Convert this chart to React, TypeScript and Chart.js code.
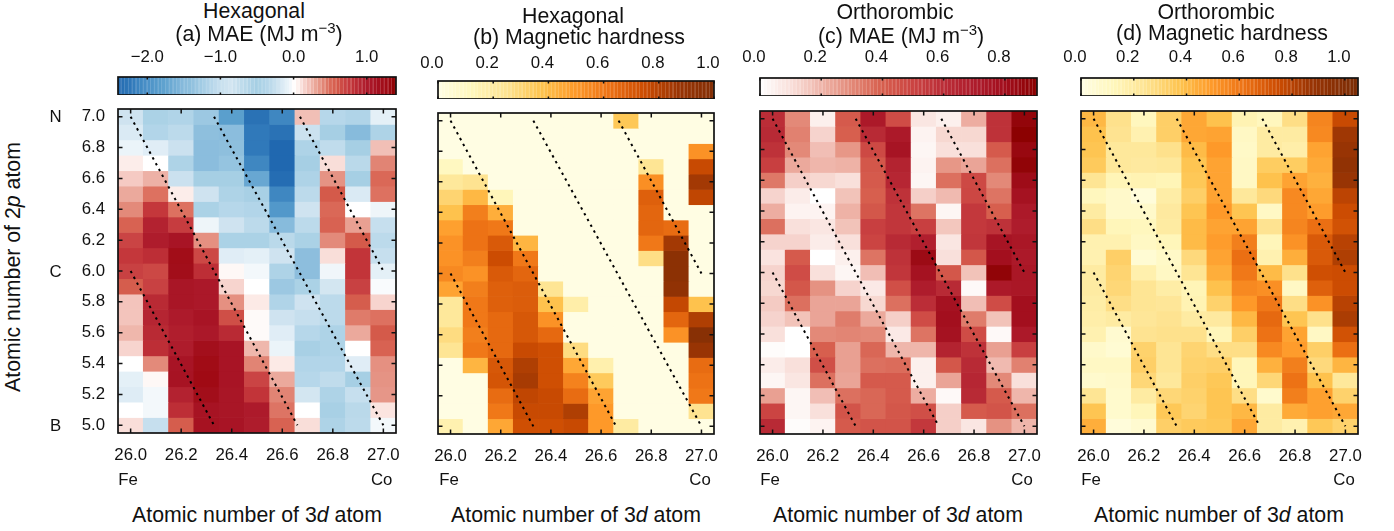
import React, { useEffect, useRef } from "react";
import { Chart, registerables } from "chart.js";

Chart.register(...registerables);

const FONT = '"Liberation Sans", Arial, sans-serif';

const xColumns = [26.0, 26.1, 26.2, 26.3, 26.4, 26.5, 26.6, 26.7, 26.8, 26.9, 27.0];
const xTickValues = [26.0, 26.2, 26.4, 26.6, 26.8, 27.0];
const yRows = [7.0, 6.9, 6.8, 6.7, 6.6, 6.5, 6.4, 6.3, 6.2, 6.1, 6.0, 5.9, 5.8, 5.7, 5.6, 5.5, 5.4, 5.3, 5.2, 5.1, 5.0];
const yTickValues = [5.0, 5.2, 5.4, 5.6, 5.8, 6.0, 6.2, 6.4, 6.6, 6.8, 7.0];

const guideLines = [
  [{ x: 26.0, y: 6.0 }, { x: 26.33, y: 5.0 }],
  [{ x: 26.0, y: 7.0 }, { x: 26.66, y: 5.0 }],
  [{ x: 26.33, y: 7.0 }, { x: 27.0, y: 5.0 }],
  [{ x: 26.67, y: 7.0 }, { x: 27.0, y: 6.0 }],
];

const hexMae = [
  [-0.2, -0.45, -0.4, -1.3, -1.8, -2.3, -2.1, 0.22, -0.35, -0.4, -0.1],
  [-0.15, -0.38, -0.3, -1.4, -1.45, -2.2, -2.3, -0.22, -0.5, -1.5, -0.42],
  [-0.07, -0.12, -0.22, -1.45, -1.4, -2.2, -2.4, -0.42, -0.28, -0.5, 0.22],
  [0.07, 0, -0.42, -1.45, -1.35, -2.1, -2.4, -0.5, 0.12, -0.32, 0.42],
  [0.18, 0.27, -0.22, -0.5, -0.5, -1.7, -2.35, -0.42, 0.37, -0.5, 0.52],
  [0.3, 0.48, 0.07, -0.2, -0.42, -0.48, -2.1, -0.3, 0.6, -0.15, 0.48],
  [0.4, 0.78, 0.48, -0.45, -0.35, -0.38, -1.9, -0.2, 0.52, 0, -0.06],
  [0.55, 0.95, 0.75, -0.06, -0.2, -0.3, -1.5, -0.3, 0.55, 0.33, -0.25],
  [0.7, 1.0, 1.1, 0.38, -0.45, -0.45, -0.32, -0.45, 0.4, 0.6, -0.3],
  [0.78, 0.85, 1.25, 0.68, -0.12, -0.1, -0.2, -1.42, 0.12, 0.8, -0.25],
  [0.72, 0.68, 1.22, 0.85, 0.03, -0.04, -0.42, -1.42, -0.05, 0.8, -0.1],
  [0.58, 0.72, 1.08, 1.05, 0.15, 0, -1.3, -0.45, -0.18, 0.72, -0.02],
  [0.2, 0.88, 1.08, 1.05, 0.38, 0.08, -0.4, -0.2, -0.3, 0.58, 0.15],
  [0.2, 0.92, 1.02, 1.1, 0.65, 0.02, -0.2, -0.25, -0.3, 0.45, 0.48],
  [0.25, 0.88, 0.98, 1.05, 0.88, 0.02, -0.12, -0.35, -0.42, 0.3, 0.6],
  [0.15, 0.85, 1.0, 1.2, 1.1, 0.25, -0.07, -0.48, -0.42, 0, 0.55],
  [0, 0.4, 1.1, 1.27, 1.1, 0.42, 0.08, -0.38, -0.38, -0.12, 0.38],
  [-0.1, 0.03, 1.12, 1.3, 1.1, 0.7, 0.3, -0.35, -0.28, -0.5, 0.37],
  [-0.13, -0.04, 0.95, 1.22, 1.08, 0.8, 0.42, -0.18, -0.42, -0.25, 0.36],
  [0, -0.04, 0.85, 1.12, 1.08, 1.02, 0.47, 0, -0.48, -0.32, 0.1],
  [0.12, -0.25, 0.58, 1.15, 1.1, 1.0, 0.55, 0.12, -0.42, -0.3, -0.04],
];

const hexHardness = [
  [0, 0, 0, 0, 0, 0, 0, 0.36, 0, 0, 0],
  [0, 0, 0, 0, 0, 0, 0, 0, 0, 0, 0],
  [0, 0, 0, 0, 0, 0, 0, 0, 0, 0, 0.52],
  [0.11, 0, 0, 0, 0, 0, 0, 0, 0.24, 0, 0.76],
  [0.22, 0.25, 0, 0, 0, 0, 0, 0, 0.53, 0, 0.85],
  [0.31, 0.41, 0.13, 0, 0, 0, 0, 0, 0.68, 0, 0.78],
  [0.38, 0.58, 0.44, 0, 0, 0, 0, 0, 0.66, 0, 0],
  [0.48, 0.62, 0.6, 0, 0, 0, 0, 0, 0.66, 0.64, 0],
  [0.52, 0.62, 0.7, 0.42, 0, 0, 0, 0, 0.6, 0.85, 0],
  [0.52, 0.58, 0.75, 0.6, 0, 0, 0, 0, 0.27, 0.95, 0],
  [0.55, 0.52, 0.7, 0.66, 0, 0, 0, 0, 0, 0.95, 0],
  [0.47, 0.58, 0.68, 0.69, 0.24, 0, 0, 0, 0, 0.92, 0],
  [0.22, 0.6, 0.68, 0.69, 0.38, 0.18, 0, 0, 0, 0.77, 0.38],
  [0.22, 0.6, 0.65, 0.71, 0.52, 0, 0, 0, 0, 0.66, 0.82],
  [0.28, 0.58, 0.65, 0.71, 0.65, 0, 0, 0, 0, 0.52, 0.97],
  [0.24, 0.6, 0.65, 0.76, 0.74, 0.28, 0, 0, 0, 0, 0.88],
  [0, 0.42, 0.71, 0.82, 0.74, 0.46, 0.17, 0, 0, 0, 0.64],
  [0, 0, 0.72, 0.84, 0.74, 0.57, 0.35, 0, 0, 0, 0.62],
  [0, 0, 0.64, 0.78, 0.76, 0.64, 0.47, 0, 0, 0, 0.6],
  [0, 0, 0.6, 0.76, 0.76, 0.82, 0.5, 0, 0, 0, 0.25],
  [0.16, 0, 0.46, 0.74, 0.74, 0.76, 0.5, 0.2, 0, 0, 0],
];

const orthoMae = [
  [0.6, 0.3, 0.05, 0.42, 0.72, 0.47, 0.08, 0.05, 0.22, 0.58, 0.87],
  [0.62, 0.32, 0.13, 0.4, 0.62, 0.72, 0.04, 0.12, 0.12, 0.58, 0.9],
  [0.58, 0.3, 0.18, 0.27, 0.48, 0.76, 0.03, 0.1, 0.1, 0.42, 0.85],
  [0.52, 0.23, 0.2, 0.21, 0.43, 0.66, 0.04, 0.27, 0.24, 0.36, 0.88],
  [0.34, 0.14, 0.12, 0.1, 0.42, 0.64, 0.03, 0.36, 0.48, 0.3, 0.82],
  [0.13, 0.06, 0, 0.17, 0.4, 0.58, 0.14, 0.19, 0.49, 0.35, 0.78],
  [0.22, 0.04, 0.04, 0.21, 0.43, 0.56, 0.35, 0.03, 0.55, 0.4, 0.72],
  [0.36, 0.1, 0.08, 0.17, 0.52, 0.56, 0.52, 0.16, 0.55, 0.58, 0.7],
  [0.13, 0.13, 0.06, 0.1, 0.5, 0.62, 0.68, 0.08, 0.56, 0.76, 0.74],
  [0.09, 0.42, 0, 0.05, 0.35, 0.58, 0.83, 0.1, 0.43, 0.8, 0.72],
  [0.13, 0.47, 0.1, 0.03, 0.18, 0.56, 0.78, 0.43, 0.17, 0.88, 0.74],
  [0.12, 0.43, 0.28, 0.13, 0.07, 0.46, 0.7, 0.62, 0.02, 0.72, 0.74],
  [0.15, 0.36, 0.24, 0.24, 0.12, 0.36, 0.6, 0.78, 0.18, 0.47, 0.8],
  [0.13, 0.17, 0.24, 0.33, 0.23, 0.14, 0.47, 0.8, 0.33, 0.17, 0.8],
  [0.1, 0, 0.3, 0.31, 0.3, 0.07, 0.35, 0.78, 0.47, 0.02, 0.72],
  [0.01, 0, 0.4, 0.25, 0.38, 0.2, 0.2, 0.66, 0.58, 0.25, 0.52],
  [0.06, 0.1, 0.46, 0.25, 0.36, 0.37, 0.05, 0.43, 0.62, 0.19, 0.32],
  [0.03, 0.08, 0.36, 0.24, 0.42, 0.42, 0.05, 0.24, 0.64, 0.3, 0.1],
  [0.25, 0.03, 0.18, 0.36, 0.38, 0.42, 0.22, 0.02, 0.62, 0.42, 0.2],
  [0.5, 0.03, 0.1, 0.44, 0.38, 0.43, 0.46, 0.14, 0.42, 0.44, 0.36],
  [0.62, 0.01, 0.04, 0.42, 0.44, 0.44, 0.55, 0.14, 0.08, 0.28, 0.2],
];

const orthoHardness = [
  [0.41, 0.26, 0.12, 0.33, 0.46, 0.38, 0.15, 0.12, 0.27, 0.56, 0.76],
  [0.38, 0.25, 0.16, 0.33, 0.46, 0.47, 0.1, 0.2, 0.2, 0.55, 0.86],
  [0.37, 0.22, 0.22, 0.26, 0.4, 0.5, 0.09, 0.2, 0.18, 0.47, 0.88],
  [0.35, 0.22, 0.21, 0.22, 0.37, 0.47, 0.1, 0.34, 0.34, 0.45, 0.92],
  [0.24, 0.14, 0.15, 0.14, 0.36, 0.47, 0.1, 0.38, 0.47, 0.43, 0.88],
  [0.12, 0.08, 0.03, 0.19, 0.33, 0.47, 0.22, 0.29, 0.55, 0.46, 0.79],
  [0.2, 0.08, 0.08, 0.21, 0.37, 0.5, 0.37, 0.1, 0.55, 0.49, 0.75],
  [0.27, 0.13, 0.12, 0.2, 0.4, 0.47, 0.47, 0.25, 0.56, 0.63, 0.73],
  [0.16, 0.16, 0.1, 0.13, 0.4, 0.49, 0.58, 0.13, 0.52, 0.7, 0.8],
  [0.16, 0.33, 0.05, 0.09, 0.29, 0.47, 0.63, 0.16, 0.44, 0.7, 0.82],
  [0.2, 0.31, 0.17, 0.1, 0.24, 0.44, 0.6, 0.4, 0.26, 0.74, 0.75],
  [0.2, 0.3, 0.24, 0.19, 0.14, 0.38, 0.55, 0.53, 0.1, 0.68, 0.75],
  [0.19, 0.27, 0.24, 0.23, 0.15, 0.32, 0.5, 0.6, 0.27, 0.52, 0.8],
  [0.18, 0.2, 0.23, 0.25, 0.2, 0.21, 0.41, 0.65, 0.37, 0.26, 0.83],
  [0.16, 0.06, 0.25, 0.26, 0.26, 0.13, 0.33, 0.62, 0.47, 0.1, 0.73],
  [0.08, 0.05, 0.32, 0.24, 0.31, 0.27, 0.27, 0.55, 0.49, 0.33, 0.63],
  [0.1, 0.1, 0.33, 0.24, 0.32, 0.33, 0.13, 0.43, 0.58, 0.29, 0.42],
  [0.07, 0.08, 0.3, 0.22, 0.33, 0.36, 0.13, 0.3, 0.62, 0.38, 0.22],
  [0.24, 0.07, 0.2, 0.3, 0.32, 0.37, 0.27, 0.07, 0.58, 0.48, 0.32],
  [0.37, 0.07, 0.13, 0.36, 0.31, 0.37, 0.41, 0.2, 0.45, 0.48, 0.46],
  [0.44, 0.03, 0.06, 0.33, 0.35, 0.36, 0.46, 0.2, 0.16, 0.36, 0.32],
];

const hexMaeTicks = [-2, -1, 0, 1];
const hardnessTicks = [0, 0.2, 0.4, 0.6, 0.8, 1.0];
const orthoMaeTicks = [0, 0.2, 0.4, 0.6, 0.8];

type Stop = [number, string];

const divergingStops: Stop[] = [
  [-2.4, "#2068b0"], [-2.3, "#2a72b5"], [-2.2, "#3079ba"], [-2.1, "#3f87c1"], [-2.0, "#4a90c7"],
  [-1.8, "#5a9fcd"], [-1.6, "#75afd6"], [-1.5, "#87bbdc"], [-1.4, "#8ebfdd"], [-1.3, "#9cc8e2"],
  [-1.15, "#b0d3e8"], [-1.0, "#c6dfee"], [-0.85, "#d2e5f1"], [-0.5, "#a6cfe4"], [-0.4, "#b0d4e8"],
  [-0.3, "#bcdaeb"], [-0.2, "#cfe3f0"], [-0.1, "#e4f0f7"], [-0.05, "#f0f6fa"], [0, "#ffffff"],
  [0.05, "#fdf3f0"], [0.1, "#fbe4e0"], [0.2, "#f3c4bc"], [0.3, "#eba99c"], [0.4, "#e38a7a"],
  [0.5, "#db6b5a"], [0.6, "#d45a4a"], [0.7, "#ca4444"], [0.8, "#c23439"], [0.9, "#b72733"],
  [1.0, "#ae1c2c"], [1.1, "#a81425"], [1.2, "#a30f1c"], [1.3, "#a00a14"], [1.4, "#8b0000"],
];
const hardnessStops: Stop[] = [
  [0, "#fffde3"], [0.125, "#fff7bc"], [0.25, "#fee391"], [0.375, "#fec44f"], [0.5, "#fe9929"],
  [0.625, "#ec7014"], [0.75, "#cc4c02"], [0.875, "#993404"], [1.05, "#7a2c05"],
];
const redStops: Stop[] = [
  [0, "#ffffff"], [0.1, "#f9e0db"], [0.2, "#efb6ab"], [0.3, "#e38978"], [0.4, "#d75f4e"],
  [0.5, "#cb4442"], [0.6, "#bb2d37"], [0.7, "#ae1c2c"], [0.8, "#a30f1e"], [0.905, "#8b0000"],
];

function hexRgb(h: string) {
  return [parseInt(h.slice(1, 3), 16), parseInt(h.slice(3, 5), 16), parseInt(h.slice(5, 7), 16)];
}
function mapRgb(stops: Stop[], v: number) {
  if (v <= stops[0][0]) return hexRgb(stops[0][1]);
  for (let i = 1; i < stops.length; i++) {
    if (v <= stops[i][0]) {
      const t = (v - stops[i - 1][0]) / (stops[i][0] - stops[i - 1][0]);
      const a = hexRgb(stops[i - 1][1]);
      const b = hexRgb(stops[i][1]);
      return a.map((c, k) => c + (b[k] - c) * t);
    }
  }
  return hexRgb(stops[stops.length - 1][1]);
}
function css(c: number[]) {
  return `rgb(${c.map((x) => Math.round(x)).join(",")})`;
}

function drawFrame(chart: any, tickLen: number, frameW: number) {
  const { ctx, chartArea: a } = chart;
  ctx.save();
  ctx.strokeStyle = "#111";
  ctx.lineWidth = frameW;
  ctx.strokeRect(a.left, a.top, a.right - a.left, a.bottom - a.top);
  ctx.lineWidth = 1.5;
  ctx.beginPath();
  const sx = chart.scales.x;
  sx.ticks.forEach((_: any, i: number) => {
    const p = sx.getPixelForTick(i);
    ctx.moveTo(p, a.top);
    ctx.lineTo(p, a.top + tickLen);
    ctx.moveTo(p, a.bottom);
    ctx.lineTo(p, a.bottom - tickLen);
  });
  if (chart.options.scales.y.type === "linear") {
    const sy = chart.scales.y;
    sy.ticks.forEach((_: any, i: number) => {
      const p = sy.getPixelForTick(i);
      ctx.moveTo(a.left, p);
      ctx.lineTo(a.left + tickLen, p);
      ctx.moveTo(a.right, p);
      ctx.lineTo(a.right - tickLen, p);
    });
  }
  ctx.stroke();
  ctx.restore();
}

function zeroOverhang(s: any) {
  s.paddingLeft = 0;
  s.paddingRight = 0;
  s.paddingTop = 0;
  s.paddingBottom = 0;
}

function Heat({ values, stops, left, right, top, bottom, showY }: any) {
  const ref = useRef<HTMLCanvasElement>(null);
  const padL = 70, padR = 30, padT = 10, padB = 40;
  useEffect(() => {
    const bars = yRows.map((y, r) => ({
      type: "bar",
      order: 2,
      data: values[r].map((_: number, c: number) => ({ x: xColumns[c], y: [y - 0.05, y + 0.05] })),
      backgroundColor: values[r].map((v: number) => css(mapRgb(stops, v))),
      borderWidth: 0,
      categoryPercentage: 1,
      barPercentage: 1,
      grouped: false,
    }));
    const lines = guideLines.map((d) => ({
      type: "line",
      order: 1,
      data: d,
      borderColor: "#000",
      borderWidth: 2,
      borderDash: [2.4, 4.2],
      pointRadius: 0,
      fill: false,
      tension: 0,
    }));
    const chart = new Chart(ref.current as any, {
      type: "bar",
      data: { datasets: [...bars, ...lines] as any },
      options: {
        animation: false,
        responsive: false,
        devicePixelRatio: 1,
        layout: { autoPadding: false, padding: { left: 0, right: padR, top: padT, bottom: 0 } },
        plugins: { legend: { display: false }, tooltip: { enabled: false }, title: { display: false } },
        scales: {
          x: {
            type: "linear",
            min: 25.95,
            max: 27.05,
            offset: false,
            grid: { display: false, drawTicks: false },
            border: { display: false },
            afterBuildTicks: (s: any) => { s.ticks = xTickValues.map((value) => ({ value })); },
            afterFit: (s: any) => { s.height = padB; zeroOverhang(s); },
            ticks: {
              autoSkip: false, maxRotation: 0, minRotation: 0, padding: 12,
              color: "#111", font: { family: FONT, size: 16.8 },
              callback: (v: any) => Number(v).toFixed(1),
            },
          },
          y: {
            type: "linear",
            min: 4.95,
            max: 7.05,
            grid: { display: false, drawTicks: false },
            border: { display: false },
            afterBuildTicks: (s: any) => { s.ticks = yTickValues.map((value) => ({ value })); },
            afterFit: (s: any) => { s.width = padL; zeroOverhang(s); },
            ticks: {
              display: showY, padding: 13, color: "#111", font: { family: FONT, size: 16.8 },
              callback: (v: any) => Number(v).toFixed(1),
            },
          },
        },
      } as any,
      plugins: [{ id: "frame", afterDatasetsDraw: (c: any) => drawFrame(c, 4.5, 1.7) }],
    });
    return () => chart.destroy();
  }, []);
  return (
    <canvas
      ref={ref}
      width={right - left + padL + padR}
      height={bottom - top + padT + padB}
      style={{ position: "absolute", left: left - padL, top: top - padT }}
    />
  );
}

function ColorBar({ stops, ticks, min, max, left, right, top, bottom, labelOffset, labelPad }: any) {
  const ref = useRef<HTMLCanvasElement>(null);
  const pad = 30, headH = 40;
  useEffect(() => {
    const fill = (ctx: any) => {
      const { chart } = ctx;
      const a = chart.chartArea;
      if (!a) return "#fff";
      const g = chart.ctx.createLinearGradient(a.left, 0, a.right, 0);
      const n = Math.round((a.right - a.left) / 3.7);
      for (let i = 0; i < n; i++) {
        const f0 = i / n, f1 = (i + 1) / n;
        const c = mapRgb(stops, min + (f0 + f1) * 0.5 * (max - min));
        const light = c.map((x) => x + (255 - x) * 0.16);
        g.addColorStop(f0, css(c));
        g.addColorStop(f0 + (f1 - f0) * 0.55, css(c));
        g.addColorStop(f0 + (f1 - f0) * 0.75, css(light));
        g.addColorStop(f1, css(light));
      }
      return g;
    };
    const chart = new Chart(ref.current as any, {
      type: "bar",
      data: {
        labels: ["scale"],
        datasets: [{ data: [[min, max]], backgroundColor: fill, borderWidth: 0, categoryPercentage: 1, barPercentage: 1 }],
      } as any,
      options: {
        indexAxis: "y",
        animation: false,
        responsive: false,
        devicePixelRatio: 1,
        layout: { autoPadding: false, padding: { left: pad, right: pad, top: 0, bottom: 0 } },
        plugins: { legend: { display: false }, tooltip: { enabled: false }, title: { display: false } },
        scales: {
          x: {
            type: "linear",
            position: "top",
            min,
            max,
            grid: { display: false, drawTicks: false },
            border: { display: false },
            afterBuildTicks: (s: any) => { s.ticks = ticks.map((value: number) => ({ value })); },
            afterFit: (s: any) => { s.height = headH; zeroOverhang(s); },
            ticks: {
              autoSkip: false, maxRotation: 0, minRotation: 0, padding: labelPad, labelOffset,
              color: "#111", font: { family: FONT, size: 16.8 },
              callback: (v: any) => (Number(v) < 0 ? "\u2212" + Math.abs(Number(v)).toFixed(1) : Number(v).toFixed(1)),
            },
          },
          y: { type: "category", display: false, offset: true },
        },
      } as any,
      plugins: [{ id: "frame", afterDatasetsDraw: (c: any) => drawFrame(c, 2.5, 1.7) }],
    });
    return () => chart.destroy();
  }, []);
  return (
    <canvas
      ref={ref}
      width={right - left + 2 * pad}
      height={bottom - top + headH + 2}
      style={{ position: "absolute", left: left - pad, top: top - headH }}
    />
  );
}

function Txt({ x, y, size = 21.3, rotate, children }: any) {
  return (
    <div
      style={{
        position: "absolute", left: x, top: y, whiteSpace: "nowrap", fontFamily: FONT, fontSize: size,
        lineHeight: 1, color: "#111",
        transform: `translate(-50%,-50%)${rotate ? ` rotate(${rotate}deg)` : ""}`,
      }}
    >
      {children}
    </div>
  );
}

const Sup = () => (
  <span style={{ fontSize: 15, position: "relative", top: -8 }}>{"\u22123"}</span>
);
const AxisX = () => (
  <>Atomic number of 3<i>d</i> atom</>
);

export default function App() {
  return (
    <div style={{ position: "fixed", left: 0, top: 0, width: 1394, height: 531, overflow: "hidden", background: "#fff" }}>
      <Heat values={hexMae} stops={divergingStops} left={117.5} right={396} top={109} bottom={433.7} showY />
      <Heat values={hexHardness} stops={hardnessStops} left={438} right={714} top={113.3} bottom={435} showY={false} />
      <Heat values={orthoMae} stops={redStops} left={759.5} right={1036.7} top={111} bottom={434.3} showY={false} />
      <Heat values={orthoHardness} stops={hardnessStops} left={1080.5} right={1357.7} top={111} bottom={434.3} showY={false} />

      <ColorBar stops={divergingStops} ticks={hexMaeTicks} min={-2.4} max={1.4} left={117.5} right={396} top={76.7} bottom={93.5} labelOffset={0} labelPad={10} />
      <ColorBar stops={hardnessStops} ticks={hardnessTicks} min={0} max={1.0} left={438} right={714} top={81} bottom={97} labelOffset={-6} labelPad={8} />
      <ColorBar stops={redStops} ticks={orthoMaeTicks} min={0} max={0.905} left={759.5} right={1036.7} top={78} bottom={94.5} labelOffset={-6} labelPad={11} />
      <ColorBar stops={hardnessStops} ticks={hardnessTicks} min={0} max={1.05} left={1080.5} right={1357.7} top={78} bottom={94.5} labelOffset={-6} labelPad={11} />

      <Txt x={254} y={12}>Hexagonal</Txt>
      <Txt x={259} y={35}>(a) MAE (MJ m<Sup /><span>)</span></Txt>
      <Txt x={573} y={17}>Hexagonal</Txt>
      <Txt x={579} y={38}>(b) Magnetic hardness</Txt>
      <Txt x={895} y={13}>Orthorombic</Txt>
      <Txt x={901} y={37}>(c) MAE (MJ m<Sup /><span>)</span></Txt>
      <Txt x={1216} y={13}>Orthorombic</Txt>
      <Txt x={1222} y={34}>(d) Magnetic hardness</Txt>

      <Txt x={14} y={267} rotate={-90}>Atomic number of 2<i>p</i> atom</Txt>
      <Txt x={55.5} y={117} size={16.8}>N</Txt>
      <Txt x={55.5} y={271.5} size={16.8}>C</Txt>
      <Txt x={55.5} y={426} size={16.8}>B</Txt>

      {[128, 449, 770, 1091].map((x) => <Txt key={x} x={x} y={480} size={16.8}>Fe</Txt>)}
      {[381.7, 700, 1022, 1344].map((x) => <Txt key={x} x={x} y={480} size={16.8}>Co</Txt>)}
      {[257, 576, 898, 1219].map((x) => <Txt key={x} x={x} y={516}><AxisX /></Txt>)}
    </div>
  );
}
